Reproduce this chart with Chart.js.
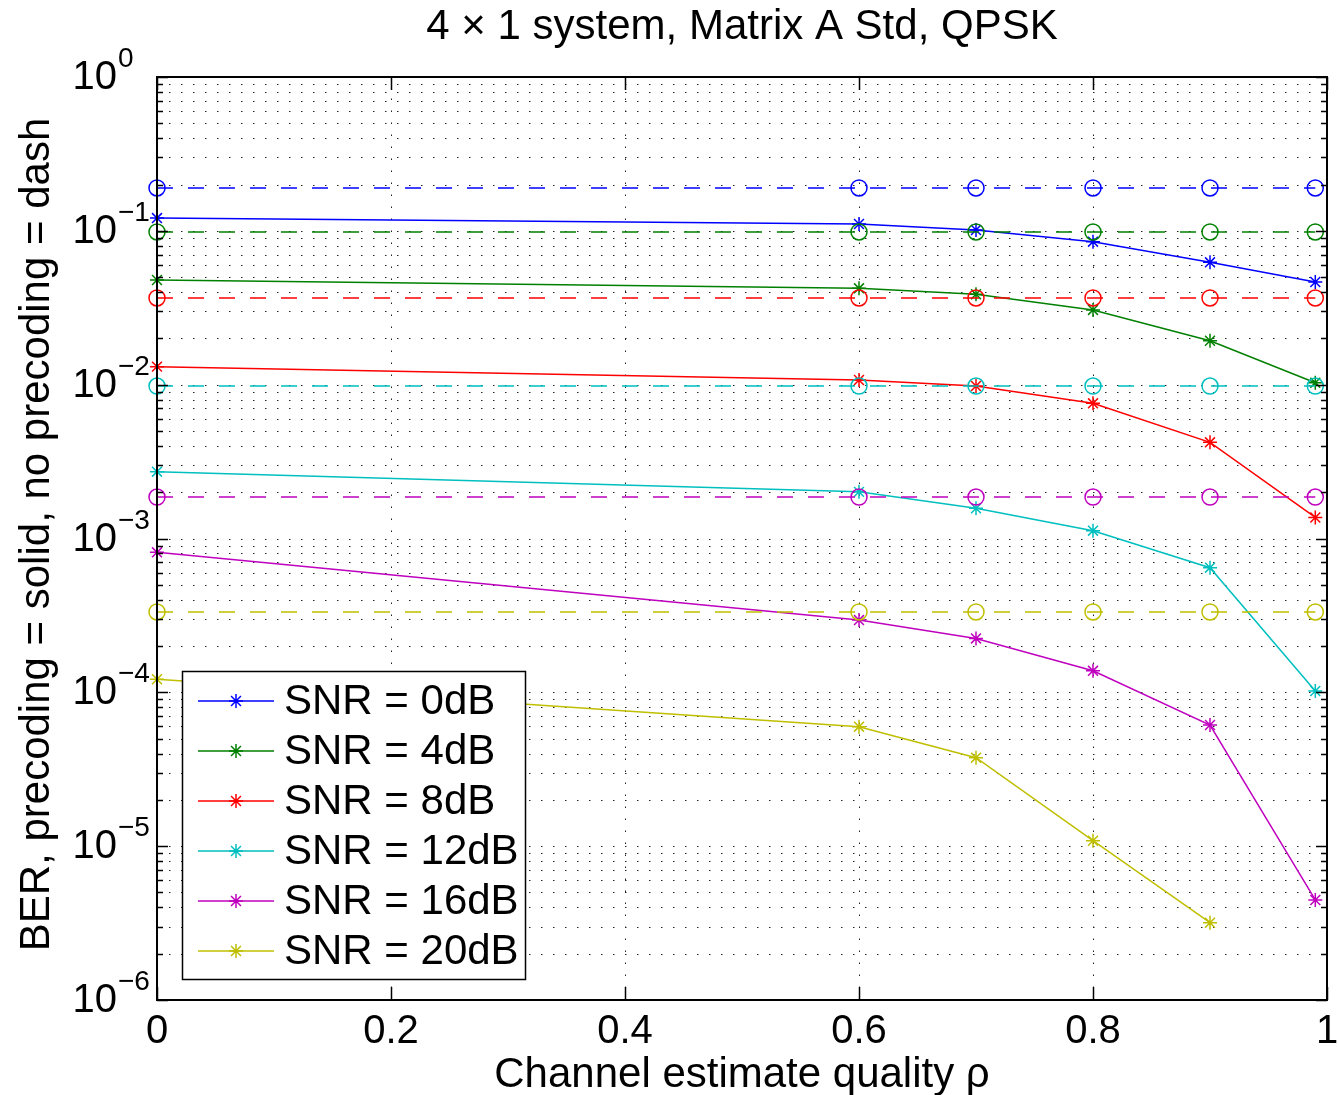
<!DOCTYPE html>
<html><head><meta charset="utf-8">
<script src="https://cdn.jsdelivr.net/npm/chart.js@4.4.0/dist/chart.umd.min.js"></script>
<style>html,body{margin:0;padding:0;background:#fff;}#wrap{width:1339px;height:1095px;}</style>
</head><body><div id="wrap"><canvas id="c" width="1339" height="1095"></canvas></div>
<script>
// ---- data ----
const rho = [0, 0.6, 0.7, 0.8, 0.9, 0.99];
const snrLabels = ['SNR = 0dB', 'SNR = 4dB', 'SNR = 8dB', 'SNR = 12dB', 'SNR = 16dB', 'SNR = 20dB'];
// precoding (solid)
const pre0dB  = [0.121, 0.1108, 0.1012, 0.085, 0.0624, 0.0465];
const pre4dB  = [0.0479, 0.0423, 0.0387, 0.0306, 0.0193, 0.0103];
const pre8dB  = [0.0131, 0.01072, 0.0098, 0.00756, 0.00422, 0.00137];
const pre12dB = [0.00272, 0.00201, 0.00157, 0.001124, 0.000646, 0.000102];
const pre16dB = [0.000813, 0.000295, 0.000224, 0.000138, 0.0000613, 0.00000447];
const pre20dB = [0.0001216, 0.0000598, 0.0000376, 0.00001085, 0.00000318];
// no precoding (dashed)
const nopre0dB  = [0.19, 0.19, 0.19, 0.19, 0.19, 0.19];
const nopre4dB  = [0.0983, 0.0983, 0.0983, 0.0983, 0.0983, 0.0983];
const nopre8dB  = [0.0366, 0.0366, 0.0366, 0.0366, 0.0366, 0.0366];
const nopre12dB = [0.0098, 0.0098, 0.0098, 0.0098, 0.0098, 0.0098];
const nopre16dB = [0.00186, 0.00186, 0.00186, 0.00186, 0.00186, 0.00186];
const nopre20dB = [0.000333, 0.000333, 0.000333, 0.000333, 0.000333, 0.000333];
const xTicks = [0, 0.2, 0.4, 0.6, 0.8, 1];
const xTickLabels = ['0', '0.2', '0.4', '0.6', '0.8', '1'];
const yTickExponents = [0, -1, -2, -3, -4, -5, -6];
const titleText = '4 \u00d7 1 system, Matrix A Std, QPSK';
const xLabelText = 'Channel estimate quality \u03c1';
const yLabelText = 'BER, precoding = solid, no precoding = dash';

// ---- styles ----
const palette = ['#0000FF', '#008000', '#FF0000', '#00BFBF', '#BF00BF', '#BFBF00'];
const FONT = '"Liberation Sans", Arial, Helvetica, sans-serif';

const preSeries = [pre0dB, pre4dB, pre8dB, pre12dB, pre16dB, pre20dB];
const noSeries = [nopre0dB, nopre4dB, nopre8dB, nopre12dB, nopre16dB, nopre20dB];
const toPts = arr => arr.map((v, i) => ({x: rho[i], y: v}));

const datasets = [];
noSeries.forEach((s, i) => datasets.push({
  label: 'no ' + snrLabels[i], data: toPts(s), borderColor: palette[i], backgroundColor: 'transparent',
  borderWidth: 1.5, borderDash: [16, 15], pointStyle: 'circle', pointRadius: 8, pointBorderWidth: 1.5,
  pointBorderColor: palette[i], pointBackgroundColor: 'transparent', tension: 0, clip: false, fill: false
}));
preSeries.forEach((s, i) => datasets.push({
  label: snrLabels[i], data: toPts(s), borderColor: palette[i], backgroundColor: 'transparent',
  borderWidth: 1.5, pointStyle: 'star', pointRadius: 7, pointBorderWidth: 1.5,
  pointBorderColor: palette[i], pointBackgroundColor: palette[i], tension: 0, clip: false, fill: false
}));

function drawStar(ctx, x, y, r) {
  ctx.beginPath();
  ctx.moveTo(x - r, y); ctx.lineTo(x + r, y);
  ctx.moveTo(x, y - r); ctx.lineTo(x, y + r);
  const d = r * 0.7071;
  ctx.moveTo(x - d, y - d); ctx.lineTo(x + d, y + d);
  ctx.moveTo(x - d, y + d); ctx.lineTo(x + d, y - d);
  ctx.stroke();
}

const decor = {
  id: 'decor',
  beforeDatasetsDraw(chart) {
    const {ctx, chartArea: a, scales: {x, y}} = chart;
    ctx.save();
    ctx.strokeStyle = '#222'; ctx.lineWidth = 1; ctx.setLineDash([1.5, 10.5]);
    for (let k = -6; k <= 0; k++) {
      for (let m = 1; m <= 9; m++) {
        const v = m * Math.pow(10, k);
        if (v > 1.0000001) break;
        const py = Math.round(y.getPixelForValue(v)) + 0.5;
        ctx.beginPath(); ctx.moveTo(a.left, py); ctx.lineTo(a.right, py); ctx.stroke();
      }
    }
    xTicks.forEach(t => {
      const px = Math.round(x.getPixelForValue(t)) + 0.5;
      ctx.beginPath(); ctx.moveTo(px, a.bottom); ctx.lineTo(px, a.top); ctx.stroke();
    });
    ctx.restore();
  },
  afterDatasetsDraw(chart) {
    const {ctx, chartArea: a, scales: {x, y}} = chart;
    ctx.save();
    ctx.setLineDash([]);
    ctx.strokeStyle = '#000';
    ctx.lineWidth = 1.5;
    for (let k = -6; k <= 0; k++) {
      for (let m = 1; m <= 9; m++) {
        const v = m * Math.pow(10, k);
        if (v > 1.0000001) break;
        const py = Math.round(y.getPixelForValue(v)) + 0.5;
        const len = m === 1 ? 11 : 6;
        ctx.beginPath();
        ctx.moveTo(a.left, py); ctx.lineTo(a.left + len, py);
        ctx.moveTo(a.right, py); ctx.lineTo(a.right - len, py);
        ctx.stroke();
      }
    }
    xTicks.forEach(t => {
      const px = Math.round(x.getPixelForValue(t)) + 0.5;
      ctx.beginPath();
      ctx.moveTo(px, a.bottom); ctx.lineTo(px, a.bottom - 13);
      ctx.moveTo(px, a.top); ctx.lineTo(px, a.top + 13);
      ctx.stroke();
    });
    ctx.lineWidth = 2;
    ctx.strokeRect(a.left, a.top, a.right - a.left, a.bottom - a.top);

    ctx.fillStyle = '#000';
    ctx.font = '40px ' + FONT;
    ctx.textAlign = 'center'; ctx.textBaseline = 'middle';
    xTicks.forEach((t, i) => ctx.fillText(xTickLabels[i], x.getPixelForValue(t), a.bottom + 32));
    yTickExponents.forEach(e => {
      const py = y.getPixelForValue(Math.pow(10, e));
      ctx.font = '40px ' + FONT;
      ctx.textAlign = 'right'; ctx.textBaseline = 'middle';
      ctx.fillText('10', 117, py + 1);
      ctx.font = '28px ' + FONT;
      ctx.textAlign = 'left'; ctx.textBaseline = 'alphabetic';
      ctx.fillText(e === 0 ? '0' : '\u2212' + (-e), 118, py - 10);
    });
    ctx.font = '42px ' + FONT;
    ctx.textAlign = 'center'; ctx.textBaseline = 'middle';
    ctx.fillText(titleText, (a.left + a.right) / 2, 27);
    ctx.fillText(xLabelText, (a.left + a.right) / 2, 1075);
    ctx.save();
    ctx.translate(37, (a.top + a.bottom) / 2 - 4);
    ctx.rotate(-Math.PI / 2);
    ctx.fillText(yLabelText, 0, 0);
    ctx.restore();

    // legend
    const lx = 182.5, ly = 671.5, lw = 343, lh = 308;
    ctx.fillStyle = '#fff';
    ctx.fillRect(lx, ly, lw, lh);
    ctx.strokeStyle = '#000'; ctx.lineWidth = 1.5;
    ctx.strokeRect(lx, ly, lw, lh);
    snrLabels.forEach((lab, i) => {
      const cy = 701 + i * 50;
      ctx.strokeStyle = palette[i]; ctx.lineWidth = 1.5;
      ctx.beginPath(); ctx.moveTo(198, cy); ctx.lineTo(274, cy); ctx.stroke();
      drawStar(ctx, 236, cy, 7);
      ctx.fillStyle = '#000';
      ctx.font = '42px ' + FONT;
      ctx.textAlign = 'left'; ctx.textBaseline = 'middle';
      ctx.fillText(lab, 284, cy + 1);
    });
    ctx.restore();
  }
};

new Chart(document.getElementById('c'), {
  type: 'line',
  data: {datasets},
  options: {
    responsive: false, animation: false, devicePixelRatio: 1,
    layout: {padding: {left: 157, right: 12, top: 77, bottom: 95}},
    scales: {
      x: {type: 'linear', display: false, min: 0, max: 1},
      y: {type: 'logarithmic', display: false, min: 1e-6, max: 1}
    },
    plugins: {legend: {display: false}, title: {display: false}, tooltip: {enabled: false}},
    elements: {line: {tension: 0}}
  },
  plugins: [decor]
});
</script></body></html>
